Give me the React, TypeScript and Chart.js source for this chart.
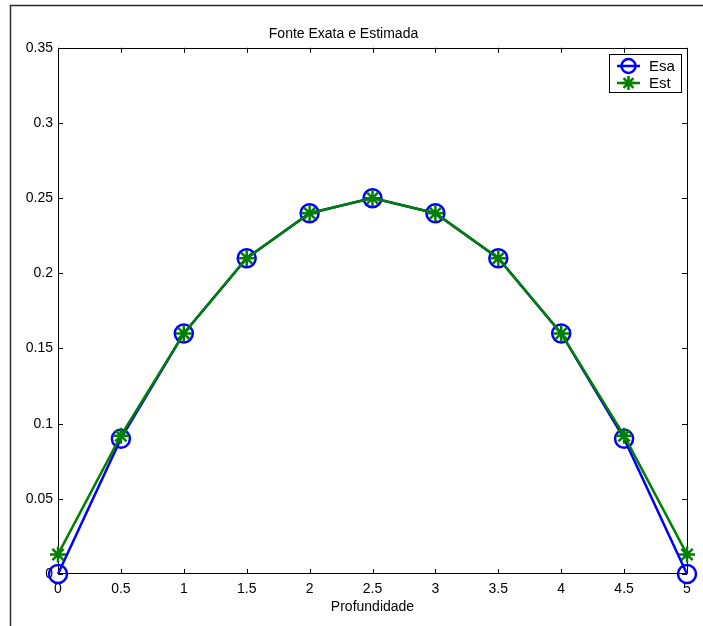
import React, { useEffect, useRef } from "react";
import { Chart, registerables } from "chart.js";

Chart.register(...registerables);

const xValues = [0, 0.5, 1, 1.5, 2, 2.5, 3, 3.5, 4, 4.5, 5];
const esaValues = [0, 0.09, 0.16, 0.21, 0.24, 0.25, 0.24, 0.21, 0.16, 0.09, 0];
const estValues = [0.013, 0.092, 0.16, 0.21, 0.24, 0.25, 0.24, 0.21, 0.16, 0.092, 0.013];
const xTicks = [0, 0.5, 1, 1.5, 2, 2.5, 3, 3.5, 4, 4.5, 5];
const xTickLabels = ["0", "0.5", "1", "1.5", "2", "2.5", "3", "3.5", "4", "4.5", "5"];
const yTicks = [0, 0.05, 0.1, 0.15, 0.2, 0.25, 0.3, 0.35];
const yTickLabels = ["0", "0.05", "0.1", "0.15", "0.2", "0.25", "0.3", "0.35"];
const seriesNames = ["Esa", "Est"];
const titleText = "Fonte Exata e Estimada";
const xTitle = "Profundidade";

const FONT = "'Liberation Sans', Arial, Helvetica, sans-serif";
const BLUE = "#0000ff";
const GREEN = "#008000";

function drawMarker(ctx: CanvasRenderingContext2D, style: string, x: number, y: number, r: number, color: string) {
  ctx.save();
  ctx.strokeStyle = color;
  ctx.lineWidth = 2.5;
  ctx.beginPath();
  if (style === "circle") {
    ctx.arc(x, y, r, 0, Math.PI * 2);
  } else {
    const d = r * Math.SQRT1_2;
    ctx.moveTo(x - r, y);
    ctx.lineTo(x + r, y);
    ctx.moveTo(x, y - r);
    ctx.lineTo(x, y + r);
    ctx.moveTo(x - d, y - d);
    ctx.lineTo(x + d, y + d);
    ctx.moveTo(x - d, y + d);
    ctx.lineTo(x + d, y - d);
  }
  ctx.stroke();
  ctx.restore();
}

const framePlugin = {
  id: "frame",
  beforeDraw(chart: any) {
    const ctx = chart.ctx;
    ctx.save();
    ctx.fillStyle = "#ffffff";
    ctx.fillRect(0, 0, chart.width, chart.height);
    ctx.strokeStyle = "#2a2a2a";
    ctx.lineWidth = 1.5;
    ctx.beginPath();
    ctx.moveTo(10.5, chart.height);
    ctx.lineTo(10.5, 5.5);
    ctx.lineTo(chart.width, 5.5);
    ctx.stroke();
    ctx.restore();
  },
  beforeDatasetsDraw(chart: any) {
    const ctx = chart.ctx;
    const { left, right, top, bottom } = chart.chartArea;
    const xs = chart.scales.x;
    const ys = chart.scales.y;
    const tl = 5;
    ctx.save();
    ctx.strokeStyle = "#000000";
    ctx.lineWidth = 1;
    ctx.beginPath();
    ctx.rect(Math.round(left) + 0.5, Math.round(top) + 0.5, Math.round(right - left), Math.round(bottom - top) - 1);
    ctx.stroke();
    ctx.beginPath();
    xTicks.forEach((v) => {
      const px = Math.round(xs.getPixelForValue(v)) + 0.5;
      ctx.moveTo(px, bottom);
      ctx.lineTo(px, bottom - tl);
      ctx.moveTo(px, top);
      ctx.lineTo(px, top + tl);
    });
    yTicks.forEach((v) => {
      const py = Math.round(ys.getPixelForValue(v)) + 0.5;
      ctx.moveTo(left, py);
      ctx.lineTo(left + tl, py);
      ctx.moveTo(right, py);
      ctx.lineTo(right - tl, py);
    });
    ctx.stroke();
    ctx.restore();
  },
  afterDatasetsDraw(chart: any) {
    const ctx = chart.ctx;
    const bx = 609.5, by = 54.5, bw = 72, bh = 38;
    ctx.save();
    ctx.fillStyle = "#ffffff";
    ctx.fillRect(bx, by, bw, bh);
    ctx.strokeStyle = "#000000";
    ctx.lineWidth = 1;
    ctx.strokeRect(bx, by, bw, bh);
    const rows = [
      { name: seriesNames[0], color: BLUE, style: "circle", r: 7, y: 66 },
      { name: seriesNames[1], color: GREEN, style: "star", r: 7, y: 83 },
    ];
    rows.forEach((row) => {
      ctx.strokeStyle = row.color;
      ctx.lineWidth = 2.5;
      ctx.beginPath();
      ctx.moveTo(617, row.y);
      ctx.lineTo(640, row.y);
      ctx.stroke();
      drawMarker(ctx, row.style, 628.5, row.y, row.r, row.color);
      ctx.fillStyle = "#000000";
      ctx.font = `15px ${FONT}`;
      ctx.textAlign = "left";
      ctx.textBaseline = "middle";
      ctx.fillText(row.name, 649, row.y + 1);
    });
    ctx.restore();
  },
};

export default function App() {
  const ref = useRef<HTMLCanvasElement | null>(null);

  useEffect(() => {
    document.body.style.margin = "0";
    const canvas = ref.current;
    if (!canvas) return;
    const chart = new Chart(canvas, {
      type: "line",
      data: {
        datasets: [
          {
            label: seriesNames[0],
            data: xValues.map((x, i) => ({ x, y: esaValues[i] })),
            borderColor: BLUE,
            backgroundColor: "rgba(0,0,0,0)",
            borderWidth: 2.5,
            pointStyle: "circle",
            pointRadius: 9,
            pointBorderWidth: 2.5,
            pointBorderColor: BLUE,
            pointBackgroundColor: "rgba(0,0,0,0)",
            tension: 0,
            clip: false as any,
            order: 1,
          },
          {
            label: seriesNames[1],
            data: xValues.map((x, i) => ({ x, y: estValues[i] })),
            borderColor: GREEN,
            backgroundColor: "rgba(0,0,0,0)",
            borderWidth: 2.5,
            pointStyle: "star",
            pointRadius: 8,
            pointBorderWidth: 2.5,
            pointBorderColor: GREEN,
            pointBackgroundColor: GREEN,
            tension: 0,
            clip: false as any,
            order: 0,
          },
        ],
      },
      options: {
        responsive: false,
        animation: false,
        events: [],
        layout: { padding: { left: 0, right: 16, top: 0, bottom: 0 } },
        plugins: {
          legend: { display: false },
          tooltip: { enabled: false },
          title: {
            display: true,
            text: titleText,
            color: "#000000",
            font: { family: FONT, size: 14, weight: "normal" as any, lineHeight: 1.2 },
            padding: { top: 26, bottom: 5 },
          },
        },
        scales: {
          x: {
            type: "linear",
            min: 0,
            max: 5,
            grid: { display: false, drawTicks: false },
            border: { display: false },
            afterBuildTicks: (scale: any) => {
              scale.ticks = xTicks.map((v) => ({ value: v }));
            },
            afterFit: (scale: any) => {
              scale.height = 52;
              scale.paddingLeft = 0;
              scale.paddingRight = 0;
            },
            ticks: {
              color: "#000000",
              font: { family: FONT, size: 14 },
              padding: 7,
              maxRotation: 0,
              autoSkip: false,
              callback: (_v: any, i: number) => xTickLabels[i],
            },
            title: {
              display: true,
              text: xTitle,
              color: "#000000",
              font: { family: FONT, size: 14 },
              padding: { top: 0, bottom: 10 },
            },
          },
          y: {
            type: "linear",
            min: 0,
            max: 0.35,
            grid: { display: false, drawTicks: false },
            border: { display: false },
            afterBuildTicks: (scale: any) => {
              scale.ticks = yTicks.map((v) => ({ value: v }));
            },
            afterFit: (scale: any) => {
              scale.width = 58;
              scale.paddingTop = 0;
              scale.paddingBottom = 0;
            },
            ticks: {
              color: "#000000",
              font: { family: FONT, size: 14 },
              padding: 5,
              autoSkip: false,
              callback: (_v: any, i: number) => yTickLabels[i],
            },
          },
        },
      },
      plugins: [framePlugin],
    });
    return () => chart.destroy();
  }, []);

  return <canvas ref={ref} width={703} height={626} style={{ display: "block" }} />;
}
